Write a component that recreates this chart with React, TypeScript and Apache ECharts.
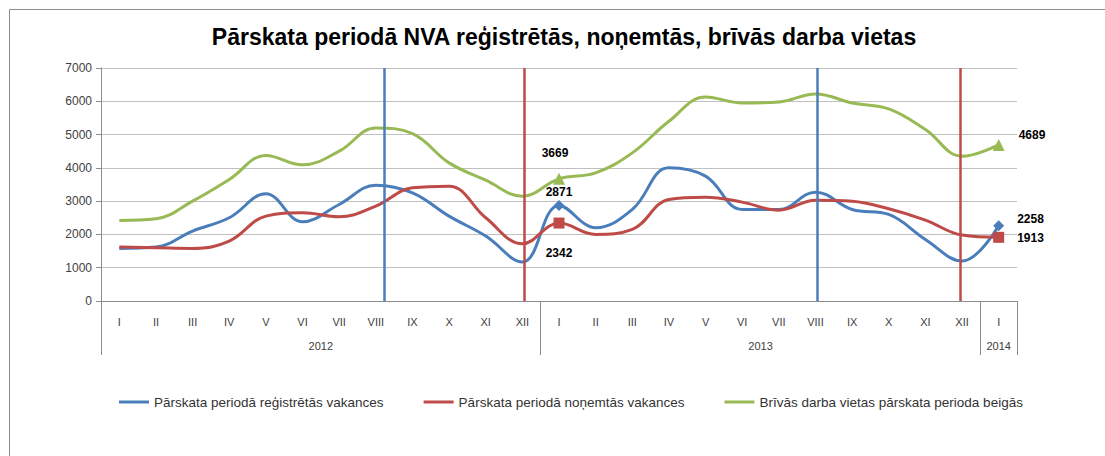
import React, { useEffect, useRef } from "react";
import * as echarts from "echarts";

const monthLabels = [
  "I", "II", "III", "IV", "V", "VI", "VII", "VIII", "IX", "X", "XI", "XII",
  "I", "II", "III", "IV", "V", "VI", "VII", "VIII", "IX", "X", "XI", "XII",
  "I",
];
const yearLabels = ["2012", "2013", "2014"];
const yearLabelPositions = [6, 18, 24.5];
const yearBoundaries = [0, 12, 24, 25];

const seriesNames = [
  "Pārskata periodā reģistrētās vakances",
  "Pārskata periodā noņemtās vakances",
  "Brīvās darba vietas pārskata perioda beigās",
];

const registered = [
  1580, 1620, 2100, 2500, 3220, 2380, 2900, 3480, 3250, 2550, 1950, 1170,
  2871, 2200, 2750, 4000, 3750, 2750, 2750, 3270, 2750, 2600, 1850, 1200,
  2258,
];
const removed = [
  1620, 1600, 1580, 1800, 2550, 2650, 2530, 2850, 3400, 3450, 2500, 1720,
  2342, 2000, 2150, 3050, 3120, 2970, 2730, 3030, 3000, 2770, 2430, 1980,
  1913,
];
const vacant = [
  2420, 2470, 3000, 3650, 4370, 4090, 4500, 5200, 5030, 4150, 3630, 3150,
  3669, 3850, 4450, 5400, 6130, 5950, 5980, 6220, 5950, 5770, 5150, 4350,
  4689,
];

const markedIndices = [12, 24];
const blueMarkers = [7.72, 19.55];
const redMarkers = [11.55, 23.45];

const COLORS = ["#4A7EBB", "#BE4B48", "#98B954"];
const FONT = "Liberation Sans";

function buildData(
  values: number[],
  symbol: string,
  size: number,
  labels: Record<number, any>
) {
  return values.map((v, i) => {
    if (markedIndices.indexOf(i) < 0) return { value: v };
    return {
      value: v,
      symbol,
      symbolSize: size,
      label: {
        show: true,
        fontFamily: FONT,
        fontWeight: "bold",
        fontSize: 12,
        color: "#000",
        ...labels[i],
      },
    };
  });
}

export default function App() {
  const ref = useRef<HTMLDivElement>(null);
  useEffect(() => {
    if (!ref.current) return;
    const chart = echarts.init(ref.current, null, { renderer: "svg" });
    const lineSeries = (name: string, idx: number, data: any[]) => ({
      name,
      type: "line",
      xAxisIndex: 0,
      yAxisIndex: 0,
      smooth: 0.4,
      symbol: "none",
      lineStyle: { width: 3, color: COLORS[idx] },
      itemStyle: { color: COLORS[idx] },
      data,
      z: 3,
    });
    chart.setOption({
      animation: false,
      backgroundColor: "#ffffff",
      textStyle: { fontFamily: FONT },
      graphic: [
        {
          type: "rect",
          shape: { x: 9.5, y: 9.5, width: 1200, height: 1000 },
          style: { fill: "none", stroke: "#8c8c8c", lineWidth: 1 },
          silent: true,
          z: 0,
        },
        {
          type: "text",
          x: 564,
          y: 37,
          style: {
            text: "Pārskata periodā NVA reģistrētās, noņemtās, brīvās darba vietas",
            font: `bold 23px "${FONT}"`,
            fill: "#000",
            align: "center",
            verticalAlign: "middle",
          },
          z: 10,
        },
      ],
      grid: { left: 101, right: 88, top: 68, bottom: 155, containLabel: false },
      legend: {
        left: 114,
        top: 390,
        itemGap: 40,
        itemWidth: 30,
        itemHeight: 3,
        icon: "rect",
        textStyle: { fontFamily: FONT, fontSize: 13.5, color: "#333" },
        data: seriesNames,
      },
      xAxis: [
        {
          type: "category",
          data: monthLabels,
          boundaryGap: true,
          axisLine: { show: true, lineStyle: { color: "#8c8c8c", width: 1 } },
          axisTick: { show: false },
          axisLabel: {
            interval: 0,
            margin: 15,
            fontSize: 11,
            color: "#404040",
            fontFamily: FONT,
          },
          splitLine: { show: false },
        },
        {
          type: "value",
          min: 0,
          max: 25,
          position: "bottom",
          axisLine: { show: false },
          axisTick: {
            show: true,
            customValues: yearBoundaries,
            length: 54,
            lineStyle: { color: "#8c8c8c", width: 1 },
          },
          axisLabel: {
            show: true,
            customValues: yearLabelPositions,
            margin: 39,
            fontSize: 11,
            color: "#404040",
            fontFamily: FONT,
            formatter: (v: number) => {
              const k = yearLabelPositions.indexOf(v);
              return k >= 0 ? yearLabels[k] : "";
            },
          },
          splitLine: { show: false },
        },
      ],
      yAxis: {
        type: "value",
        min: 0,
        max: 7000,
        interval: 1000,
        axisLine: { show: true, lineStyle: { color: "#8c8c8c", width: 1 } },
        axisTick: { show: true, length: 5, lineStyle: { color: "#8c8c8c" } },
        axisLabel: {
          margin: 9,
          fontSize: 12,
          color: "#404040",
          fontFamily: FONT,
          formatter: (v: number) => String(v),
        },
        splitLine: { show: true, lineStyle: { color: "#c0c0c0", width: 1 } },
      },
      series: [
        lineSeries(
          seriesNames[0],
          0,
          buildData(registered, "diamond", 11, {
            12: { position: "top", distance: 2 },
            24: { position: "right", distance: 13, offset: [0, -7] },
          })
        ),
        lineSeries(
          seriesNames[1],
          1,
          buildData(removed, "rect", 11, {
            12: { position: "bottom", distance: 18 },
            24: { position: "right", distance: 13, offset: [0, 1] },
          })
        ),
        lineSeries(
          seriesNames[2],
          2,
          buildData(vacant, "triangle", 12, {
            12: { position: "top", distance: 14, offset: [-4, 0] },
            24: { position: "right", distance: 14, offset: [0, -10] },
          })
        ),
        {
          type: "line",
          xAxisIndex: 1,
          yAxisIndex: 0,
          data: [],
          symbol: "none",
          silent: true,
          z: 2,
          markLine: {
            silent: true,
            symbol: "none",
            label: { show: false },
            lineStyle: { color: COLORS[0], width: 2.5, type: "solid" },
            data: blueMarkers.map((x) => ({ xAxis: x })),
          },
        },
        {
          type: "line",
          xAxisIndex: 1,
          yAxisIndex: 0,
          data: [],
          symbol: "none",
          silent: true,
          z: 2,
          markLine: {
            silent: true,
            symbol: "none",
            label: { show: false },
            lineStyle: { color: COLORS[1], width: 2.5, type: "solid" },
            data: redMarkers.map((x) => ({ xAxis: x })),
          },
        },
      ],
    });
    return () => chart.dispose();
  }, []);
  return (
    <div
      ref={ref}
      style={{ position: "fixed", left: 0, top: 0, width: 1105, height: 456 }}
    />
  );
}
